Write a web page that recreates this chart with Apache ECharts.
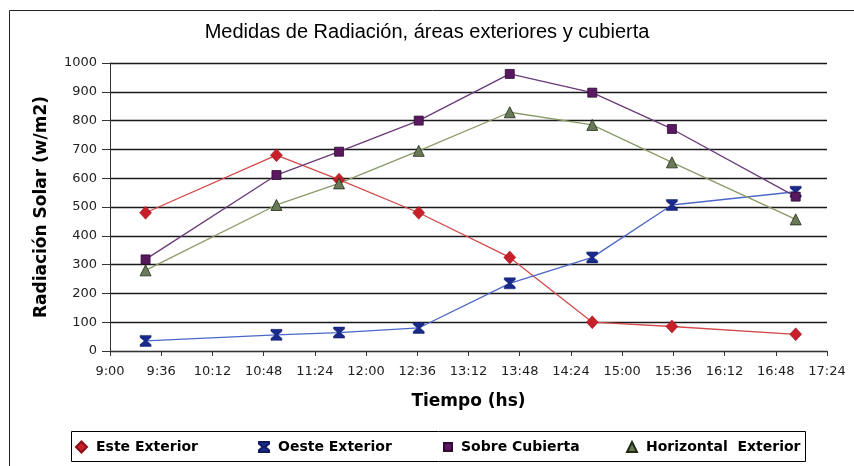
<!DOCTYPE html>
<html>
<head>
<meta charset="utf-8">
<script src="https://cdn.jsdelivr.net/npm/echarts@6/dist/echarts.min.js"></script>
<style>
  html, body { margin: 0; padding: 0; background: #fff; }
  #chart { width: 854px; height: 466px; }
</style>
</head>
<body>
<div id="chart"></div>
<script>
// horas de medición (compartidas por las cuatro series)
const horas = ["9:25", "10:57", "11:41", "12:37", "13:41", "14:39", "15:35", "17:02"];

const esteExterior = [480, 680, 595, 480, 325, 100, 85, 58];
const oesteExterior = [35, 56, 64, 80, 235, 325, 507, 553];
const sobreCubierta = [318, 611, 692, 800, 962, 897, 771, 536];
const horizontalExterior = [280, 507, 582, 695, 829, 785, 655, 457];

const nombres = ["Este Exterior", "Oeste Exterior", "Sobre Cubierta", "Horizontal  Exterior"];

const HOURGLASS = "path://M0,0 L10,0 L10,1.8 L6.2,5 L10,8.2 L10,10 L0,10 L0,8.2 L3.8,5 L0,1.8 Z";

function toMin(h) {
  const [hh, mm] = h.split(":").map(Number);
  return hh * 60 + mm;
}

function fmtMin(v) {
  const h = Math.floor(v / 60);
  const m = Math.round(v % 60);
  return `${h}:${String(m).padStart(2, "0")}`;
}

function pares(valores) {
  return horas.map((h, i) => [toMin(h), valores[i]]);
}

const chart = echarts.init(document.getElementById("chart"), null, { renderer: "canvas" });

const legendText = { fontFamily: "DejaVu Sans", fontWeight: "bold", fontSize: 14, color: "#000", padding: [0, 0, 0, 4] };

function leyenda(nombre, icon, left, size) {
  return {
    data: [{ name: nombre, icon: icon }],
    left: left,
    top: 440,
    padding: 0,
    itemWidth: size,
    itemHeight: size,
    selectedMode: false,
    textStyle: legendText,
  };
}

chart.setOption({
  animation: false,
  backgroundColor: "#fff",
  title: {
    text: "Medidas de Radiación, áreas exteriores y cubierta",
    left: "center",
    top: 17,
    textStyle: { fontFamily: "Liberation Sans", fontWeight: "normal", fontSize: 20, color: "#000" },
  },
  graphic: [
    { type: "rect", shape: { x: 9.5, y: 10.5, width: 900, height: 500 }, style: { fill: null, stroke: "#222", lineWidth: 1 }, silent: true },
    { type: "rect", shape: { x: 71.5, y: 431.5, width: 734, height: 30 }, style: { fill: null, stroke: "#000", lineWidth: 1 }, silent: true },
  ],
  legend: [
    leyenda(nombres[0], "diamond", 75, 11),
    leyenda(nombres[1], HOURGLASS, 258, 10),
    leyenda(nombres[2], "rect", 443, 8),
    leyenda(nombres[3], "triangle", 626, 10),
  ],
  grid: { left: 110, top: 63, right: 27, bottom: 115 },
  xAxis: {
    type: "value",
    min: 540,
    max: 1044,
    interval: 36,
    name: "Tiempo (hs)",
    nameLocation: "middle",
    nameGap: 42,
    nameTextStyle: { fontFamily: "DejaVu Sans", fontWeight: "bold", fontSize: 17, color: "#000" },
    axisLine: { lineStyle: { color: "#333", width: 1 } },
    axisTick: { show: true, length: 5, lineStyle: { color: "#333" } },
    axisLabel: { formatter: fmtMin, fontFamily: "DejaVu Sans", fontSize: 13, color: "#222", margin: 14 },
    splitLine: { show: false },
  },
  yAxis: {
    type: "value",
    min: 0,
    max: 1000,
    interval: 100,
    name: "Radiación Solar (w/m2)",
    nameLocation: "middle",
    nameGap: 60,
    nameTextStyle: { fontFamily: "DejaVu Sans", fontWeight: "bold", fontSize: 17, color: "#000" },
    axisLine: { show: true, lineStyle: { color: "#333", width: 1 } },
    axisTick: { show: true, length: 8, lineStyle: { color: "#333" } },
    axisLabel: { formatter: (v) => String(v), fontFamily: "DejaVu Sans", fontSize: 13, color: "#222", margin: 13 },
    splitLine: { lineStyle: { color: "#1a1a1a", width: 1.3 } },
  },
  series: [
    {
      name: nombres[0],
      type: "line",
      data: pares(esteExterior),
      symbol: "diamond",
      symbolSize: [12, 13],
      lineStyle: { color: "#d24a4a", width: 1.3 },
      itemStyle: { color: "#c8202a", borderColor: "#8a1018", borderWidth: 0.5 },
    },
    {
      name: nombres[1],
      type: "line",
      data: pares(oesteExterior),
      symbol: HOURGLASS,
      symbolSize: 11,
      lineStyle: { color: "#4a68c8", width: 1.3 },
      itemStyle: { color: "#1a2a8c", borderColor: "#101a60", borderWidth: 0.5 },
    },
    {
      name: nombres[2],
      type: "line",
      data: pares(sobreCubierta),
      symbol: "rect",
      symbolSize: 9,
      lineStyle: { color: "#6a3a78", width: 1.3 },
      itemStyle: { color: "#5a1860", borderColor: "#2e0a32", borderWidth: 0.8 },
    },
    {
      name: nombres[3],
      type: "line",
      data: pares(horizontalExterior),
      symbol: "triangle",
      symbolSize: 11,
      lineStyle: { color: "#8a9a66", width: 1.3 },
      itemStyle: { color: "#6a7a58", borderColor: "#1e2a14", borderWidth: 0.8 },
    },
  ],
});
</script>
</body>
</html>
